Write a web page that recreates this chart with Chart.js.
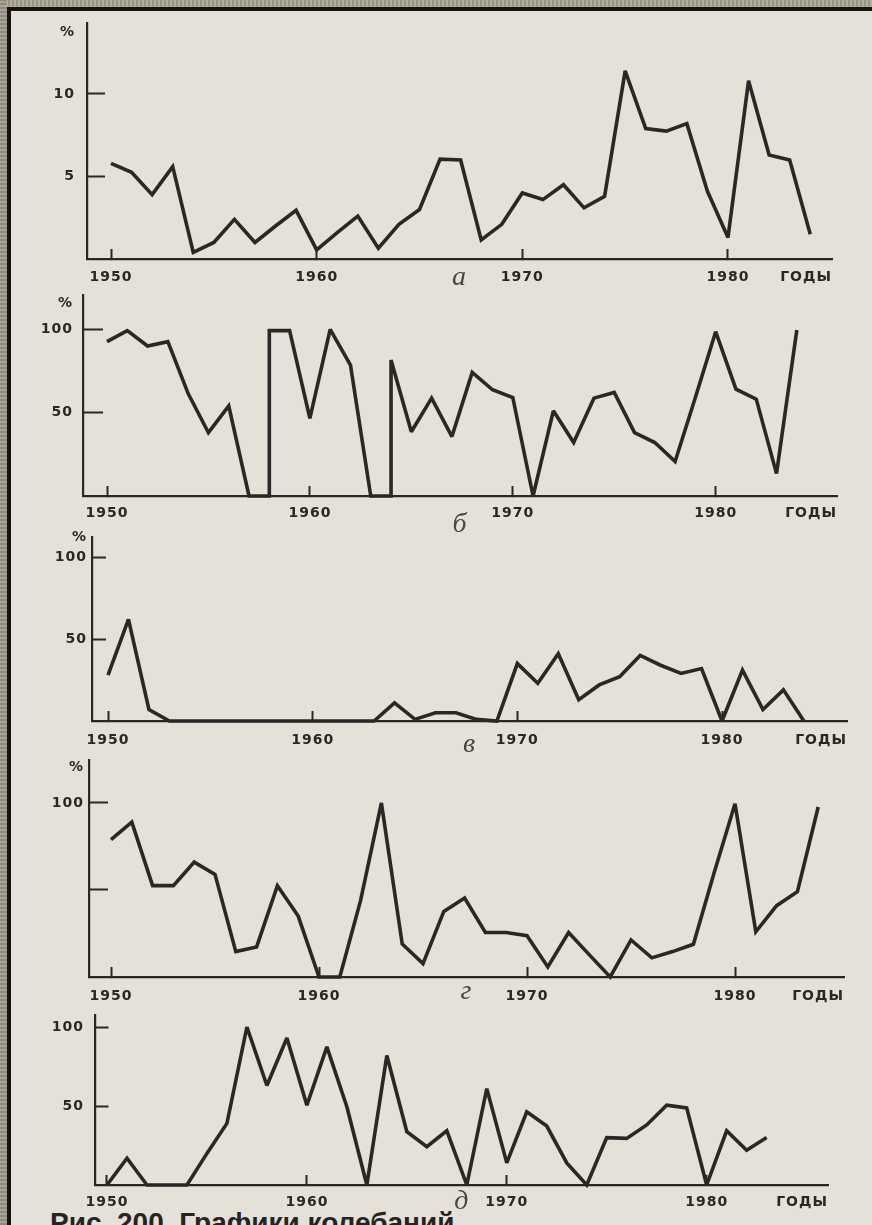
<!DOCTYPE html>
<html>
<head>
<meta charset="utf-8">
<script src="https://cdn.jsdelivr.net/npm/chart.js@4.4.1/dist/chart.umd.min.js"></script>
<style>
html, body { margin: 0; padding: 0; width: 872px; height: 1225px; overflow: hidden; background: #e5e1d8; }
#page { position: relative; width: 872px; height: 1225px; overflow: hidden; background: #e5e1d8; }
.topband { position: absolute; left: 0; top: 0; width: 872px; height: 7px; background: repeating-linear-gradient(90deg, #9b9587 0 2px, #b4aea0 2px 4px); }
.topline { position: absolute; left: 7px; top: 7px; width: 865px; height: 4px; background: #141311; }
.leftband { position: absolute; left: 0; top: 0; width: 7px; height: 1225px; background: repeating-linear-gradient(0deg, #8e897c 0 2px, #aaa497 2px 4px); }
.leftline { position: absolute; left: 7px; top: 7px; width: 4px; height: 1218px; background: #141311; }
.panel { position: absolute; left: 0; width: 872px; }
.panel canvas { display: block; }
.caption { position: absolute; left: 50px; top: 1209px; font: bold 28px "Liberation Sans", Arial, sans-serif; line-height: 28px; color: #262422; white-space: nowrap; }
</style>
</head>
<body>
<div id="page">
  <div class="topband"></div>
  <div class="leftband"></div>
  <div class="topline"></div>
  <div class="leftline"></div>
  <div class="caption">Рис. 200. Графики колебаний</div>
</div>
<script>
// ---------- data ----------
const yearsA = [1950,1951,1952,1953,1954,1955,1956,1957,1958,1959,1960,1961,1962,1963,1964,1965,1966,1967,1968,1969,1970,1971,1972,1973,1974,1975,1976,1977,1978,1979,1980,1981,1982,1983,1984];
const valuesA = [5.8,5.25,3.9,5.6,0.4,1.0,2.4,1.0,2.0,2.95,0.55,1.6,2.6,0.65,2.1,3.0,6.05,6.0,1.15,2.1,4.0,3.6,4.5,3.1,3.8,11.4,7.9,7.75,8.2,4.1,1.3,10.8,6.3,6.0,1.5];

const yearsB = [1950,1951,1952,1953,1954,1955,1956,1957,1958,1958,1959,1960,1961,1962,1963,1964,1964,1965,1966,1967,1968,1969,1970,1971,1972,1973,1974,1975,1976,1977,1978,1979,1980,1981,1982,1983,1984];
const valuesB = [92.4,99,89.8,92.4,61.3,37.9,54,0,0,99,99,46.5,99.8,78.4,0,0,81.4,38.5,58.6,35.6,74,63.6,59,0,51,32,58.6,62,38,32,20.6,59,98.4,64,58,13.4,99.4];

const yearsV = yearsA;
const valuesV = [28,62,7,0,0,0,0,0,0,0,0,0,0,0,11,1,5,5,1,0,35,23,41,13,22,27,40,34,29,32,0,31,7,19,0];

const yearsG = yearsA;
const valuesG = [79,89,52.5,52.5,66,59,14.6,17.3,52.5,35,0,0,44,100,19,7.7,37.7,45.4,25.6,25.6,23.7,5.8,25.6,12.7,0,21.3,11,14.6,18.8,60,99.6,26,41,49,97.7];

const yearsD = [1950,1951,1952,1953,1954,1955,1956,1957,1958,1959,1960,1961,1962,1963,1964,1965,1966,1967,1968,1969,1970,1971,1972,1973,1974,1975,1976,1977,1978,1979,1980,1981,1982,1983];
const valuesD = [0,17,0,0,0,20,39,100,63,93,50.5,87.4,49.5,0,82,33.7,24.2,34.3,0,61,14,46.3,37.3,14,0,30,29.5,38,50.5,48.8,0,34.3,22,30];

// tick labels
const xTickYears = [1950, 1960, 1970, 1980];
const xTickLabels = ['1950', '1960', '1970', '1980'];
const axisUnit = 'ГОДЫ';
const yTicksA = [5, 10, 13.76];   const yLabelsA = ['5', '10', '%'];
const yTicksB = [50, 100, 115.6]; const yLabelsB = ['50', '100', '%'];
const yTicksV = [50, 100, 112];   const yLabelsV = ['50', '100', '%'];
const yTicksG = [50, 100, 120.7]; const yLabelsG = ['', '100', '%'];
const yTicksD = [50, 100];        const yLabelsD = ['50', '100'];
const panelLetters = ['а', 'б', 'в', 'г', 'д'];

// ---------- layout / style ----------
const INK = '#2a2826';
const LETTER_INK = '#4a4641';
const tickFont = { family: 'DejaVu Sans', weight: 'bold', size: 14, lineHeight: 1.2 };
const letterFont = { family: 'Liberation Serif', style: 'italic', weight: 'normal', size: 28, lineHeight: 1.2 };

const inkPlugin = {
  id: 'inkStyle',
  beforeDraw(chart) {
    chart.ctx.letterSpacing = '1px';
    chart.ctx.miterLimit = 2.5;
  }
};

const panels = [
  { years: yearsA, values: valuesA, yTicks: yTicksA, yLabels: yLabelsA, letter: panelLetters[0],
    top: 0, height: 294, padTop: 23, yWidth: 87, padRight: 40, xHeight: 35,
    xMin: 1948.833, xMax: 1985.057, yMax: 14.3, xLabelPad: 19.6, unitPad: 8.6, yTickLen: 18, yLabelPad: 30 },
  { years: yearsB, values: valuesB, yTicks: yTicksB, yLabels: yLabelsB, letter: panelLetters[1],
    top: 290, height: 251, padTop: 5, yWidth: 83, padRight: 35, xHeight: 45,
    xMin: 1948.817, xMax: 1985.98, yMax: 120.36, xLabelPad: 18.6, unitPad: 19.6, yTickLen: 20, yLabelPad: 30 },
  { years: yearsV, values: valuesV, yTicks: yTicksV, yLabels: yLabelsV, letter: panelLetters[2],
    top: 530, height: 231, padTop: 7, yWidth: 92, padRight: 25, xHeight: 40,
    xMin: 1949.218, xMax: 1986.107, yMax: 112.2, xLabelPad: 20.6, unitPad: 12.6, yTickLen: 14, yLabelPad: 19 },
  { years: yearsG, values: valuesG, yTicks: yTicksG, yLabels: yLabelsG, letter: panelLetters[3],
    top: 752, height: 256, padTop: 8, yWidth: 89, padRight: 28, xHeight: 31,
    xMin: 1948.942, xMax: 1985.24, yMax: 124.7, xLabelPad: 20.6, unitPad: 3.6, yTickLen: 19, yLabelPad: 24 },
  { years: yearsD, values: valuesD, yTicks: yTicksD, yLabels: yLabelsD, letter: panelLetters[4],
    top: 1008, height: 210, padTop: 7, yWidth: 95.5, padRight: 44, xHeight: 33,
    xMin: 1949.425, xMax: 1986.07, yMax: 107.6, xLabelPad: 18.6, unitPad: 7.6, yTickLen: 13, yLabelPad: 24.5 }
];

function zeroPadding(s) { s.paddingLeft = 0; s.paddingRight = 0; s.paddingTop = 0; s.paddingBottom = 0; }

function makePanel(p) {
  const div = document.createElement('div');
  div.className = 'panel';
  div.style.top = p.top + 'px';
  div.style.height = p.height + 'px';
  const canvas = document.createElement('canvas');
  div.appendChild(canvas);
  document.getElementById('page').appendChild(div);

  new Chart(canvas, {
    type: 'line',
    data: {
      datasets: [{
        data: p.years.map((yr, i) => ({ x: yr, y: p.values[i] })),
        borderColor: INK,
        borderWidth: 3.6,
        pointRadius: 0,
        pointHoverRadius: 0,
        tension: 0,
        fill: false,
        clip: false,
        borderJoinStyle: 'miter',
        borderCapStyle: 'butt'
      }]
    },
    options: {
      responsive: true,
      maintainAspectRatio: false,
      animation: false,
      events: [],
      layout: { padding: { top: p.padTop, left: 0, right: p.padRight, bottom: 0 } },
      plugins: {
        legend: { display: false },
        tooltip: { enabled: false },
        title: {
          display: true, text: p.letter, position: 'bottom', fullSize: false, align: 'center',
          color: LETTER_INK, font: letterFont, padding: { top: -33.6, bottom: 0 }
        }
      },
      scales: {
        x: {
          type: 'linear', min: p.xMin, max: p.xMax, bounds: 'data',
          border: { display: true, color: INK, width: 2.2 },
          grid: { display: true, drawOnChartArea: false, drawTicks: true, tickLength: -10, tickWidth: 2, tickColor: INK },
          ticks: { autoSkip: false, maxRotation: 0, minRotation: 0, padding: p.xLabelPad, font: tickFont, color: INK,
                   callback: (v, i) => xTickLabels[i] },
          afterBuildTicks: s => { s.ticks = xTickYears.map(v => ({ value: v })); },
          afterFit: s => { s.height = p.xHeight; zeroPadding(s); },
          title: { display: true, text: axisUnit, align: 'end', color: INK, font: tickFont, padding: { top: 0, bottom: p.unitPad } }
        },
        y: {
          type: 'linear', min: 0, max: p.yMax, bounds: 'data',
          border: { display: true, color: INK, width: 2.2 },
          grid: { display: true, drawOnChartArea: false, drawTicks: true, tickLength: -p.yTickLen, tickWidth: 2,
                  tickColor: c => (p.yLabels[c.index] === '%' ? 'rgba(0,0,0,0)' : INK) },
          ticks: { autoSkip: false, padding: p.yLabelPad, font: tickFont, color: INK,
                   callback: (v, i) => p.yLabels[i] },
          afterBuildTicks: s => { s.ticks = p.yTicks.map(v => ({ value: v })); },
          afterFit: s => { s.width = p.yWidth; zeroPadding(s); }
        }
      }
    },
    plugins: [inkPlugin]
  });
}

panels.forEach(makePanel);
</script>
</body>
</html>
